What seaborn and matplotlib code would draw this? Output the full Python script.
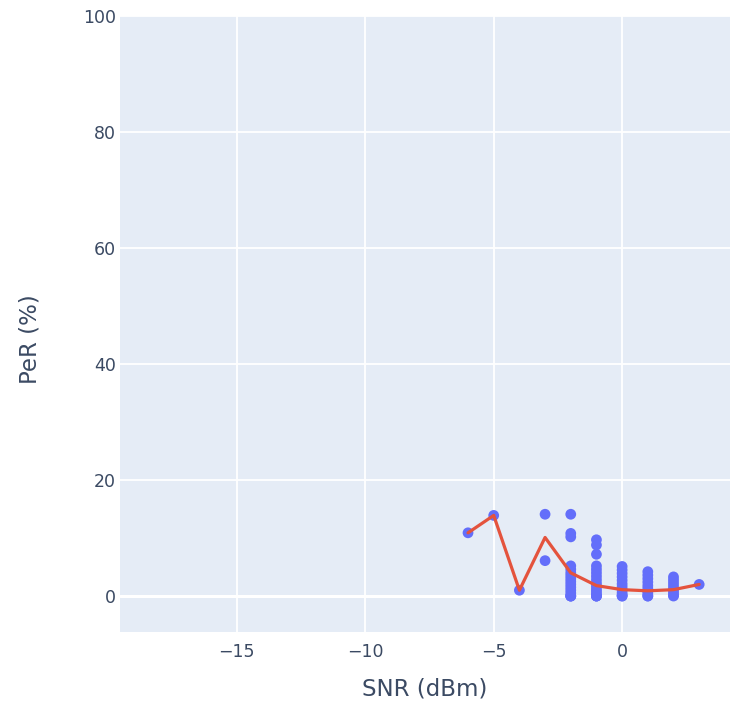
import numpy as np
import pandas as pd
import matplotlib
matplotlib.use("Agg")
import matplotlib.pyplot as plt
import seaborn as sns

# scatter points: SNR (dBm) and PeR (%) per sample
snr_m6 = [-6]
per_m6 = [10.9]
snr_m5 = [-5]
per_m5 = [13.9]
snr_m4 = [-4]
per_m4 = [1.0]
snr_m3 = [-3, -3]
per_m3 = [14.1, 6.1]
snr_m2 = [-2] * 16
per_m2 = [14.1, 10.8, 10.2, 5.2, 4.6, 4.0, 3.5, 3.0, 2.5, 2.0, 1.5, 1.0, 0.5, 0.0, 0.0, 0.0]
snr_m1 = [-1] * 16
per_m1 = [9.7, 8.8, 7.2, 5.2, 4.6, 4.0, 3.4, 2.8, 2.2, 1.7, 1.2, 0.8, 0.4, 0.0, 0.0, 0.0]
snr_0 = [0] * 12
per_0 = [5.1, 4.5, 3.9, 3.3, 2.7, 2.1, 1.6, 1.1, 0.6, 0.2, 0.0, 0.0]
snr_p1 = [1] * 10
per_p1 = [4.2, 3.6, 3.0, 2.4, 1.8, 1.3, 0.8, 0.4, 0.0, 0.0]
snr_p2 = [2] * 9
per_p2 = [3.3, 2.8, 2.3, 1.8, 1.3, 0.9, 0.5, 0.1, 0.0]
snr_p3 = [3]
per_p3 = [2.0]

# trend line (mean PeR per SNR)
trend_snr = [-6, -5, -4, -3, -2, -1, 0, 1, 2, 3]
trend_per = [10.9, 13.9, 1.0, 10.1, 4.0, 1.8, 1.1, 0.9, 1.1, 2.0]

df = pd.DataFrame({
    "snr": snr_m6 + snr_m5 + snr_m4 + snr_m3 + snr_m2 + snr_m1 + snr_0 + snr_p1 + snr_p2 + snr_p3,
    "per": per_m6 + per_m5 + per_m4 + per_m3 + per_m2 + per_m1 + per_0 + per_p1 + per_p2 + per_p3,
})
trend = pd.DataFrame({"snr": trend_snr, "per": trend_per})

sns.set_style("white")
plt.rcParams["font.family"] = ["DejaVu Sans"]

fig = plt.figure(figsize=(7.3, 7.12), dpi=100)
ax = fig.add_axes([120 / 730, 1 - 632 / 712, 610 / 730, 616 / 712])
ax.set_facecolor("#E5ECF6")

sns.scatterplot(data=df, x="snr", y="per", ax=ax, color="#636EFA",
                s=60, edgecolor="none", zorder=3)
sns.lineplot(data=trend, x="snr", y="per", ax=ax, color="#E4533D",
             linewidth=2.3, zorder=4)

ax.set_xlim(-19.55, 4.2)
ax.set_ylim(-6.2, 100)
ax.set_xticks([-15, -10, -5, 0])
ax.set_xticklabels(["\u221215", "\u221210", "\u22125", "0"])
ax.set_yticks([0, 20, 40, 60, 80, 100])
ax.grid(True, color="white", linewidth=1.3)
ax.axhline(0, color="white", linewidth=2.2, zorder=1)
ax.set_axisbelow(True)
for sp in ax.spines.values():
    sp.set_visible(False)
ax.tick_params(axis="both", length=0, labelsize=12.5, colors="#3b4a63")
ax.tick_params(axis="y", pad=3)
ax.tick_params(axis="x", pad=8)
ax.set_xlabel("SNR (dBm)", fontsize=16.5, color="#3b4a63", labelpad=12)
ax.set_ylabel("PeR (%)", fontsize=16.5, color="#3b4a63")
ax.yaxis.set_label_coords(-0.129, 0.476)

fig.savefig("out.png", dpi=100)
